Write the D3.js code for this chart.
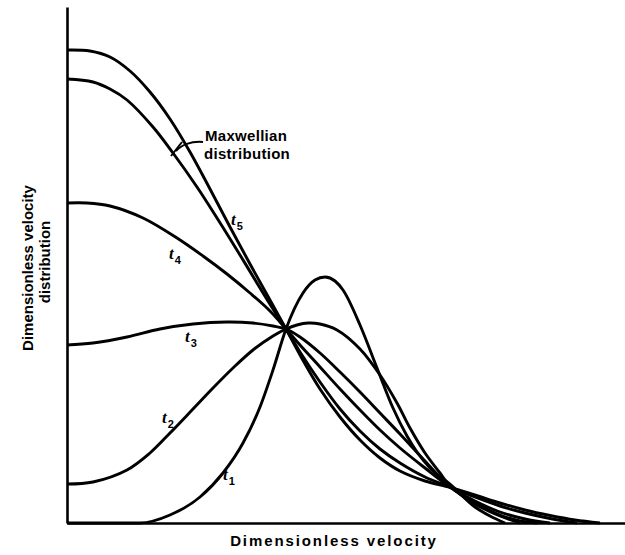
<!DOCTYPE html>
<html>
<head>
<meta charset="utf-8">
<script src="https://cdn.jsdelivr.net/npm/d3@7"></script>
<style>
  html, body { margin: 0; padding: 0; background: #fff; }
  svg { display: block; }
</style>
</head>
<body>
<svg id="chart" width="625" height="555"></svg>
<script>
// ---- Data: dimensionless velocity (v) vs dimensionless distribution f(v) ----
const maxwellian = [[0,4.73],[0.23,4.72],[0.43,4.66],[0.63,4.52],[0.83,4.31],[1.03,4.04],[1.23,3.71],[1.43,3.34],[1.63,2.96],[1.83,2.59],[2.03,2.23],[2.19,1.94],[2.33,1.68],[2.53,1.34],[2.73,1.06],[2.93,0.83],[3.13,0.65],[3.33,0.52],[3.58,0.42],[3.83,0.355],[4.08,0.28],[4.33,0.20],[4.58,0.13],[4.83,0.075],[5.08,0.03],[5.33,0.00]];
const t5 = [[0,4.44],[0.26,4.41],[0.43,4.34],[0.60,4.23],[0.86,3.96],[1.06,3.70],[1.30,3.36],[1.50,3.05],[1.73,2.68],[1.93,2.35],[2.06,2.14],[2.19,1.94],[2.33,1.71],[2.53,1.41],[2.73,1.14],[2.93,0.92],[3.13,0.74],[3.33,0.60],[3.58,0.46],[3.83,0.36],[4.08,0.26],[4.33,0.17],[4.58,0.10],[4.83,0.045],[5.10,0.00]];
const t4 = [[0,3.20],[0.2,3.20],[0.43,3.17],[0.76,3.05],[1.10,2.85],[1.36,2.67],[1.60,2.49],[1.83,2.30],[2.03,2.12],[2.19,1.94],[2.33,1.78],[2.53,1.56],[2.73,1.34],[2.93,1.13],[3.13,0.93],[3.33,0.75],[3.58,0.55],[3.83,0.36],[4.08,0.22],[4.33,0.11],[4.58,0.04],[4.83,0.00]];
const t3 = [[0,1.78],[0.26,1.80],[0.60,1.86],[0.93,1.94],[1.26,1.99],[1.60,2.01],[1.86,2.00],[2.06,1.97],[2.19,1.94],[2.33,1.86],[2.53,1.70],[2.73,1.51],[2.93,1.31],[3.13,1.10],[3.33,0.89],[3.58,0.62],[3.83,0.36],[4.08,0.20],[4.33,0.08],[4.53,0.02],[4.70,0.00]];
const t2 = [[0,0.39],[0.26,0.41],[0.60,0.53],[0.83,0.70],[1.03,0.90],[1.26,1.14],[1.46,1.35],[1.66,1.55],[1.86,1.73],[2.06,1.87],[2.19,1.94],[2.30,1.98],[2.41,2.00],[2.53,1.99],[2.70,1.93],[2.93,1.74],[3.13,1.48],[3.30,1.20],[3.43,0.95],[3.58,0.70],[3.73,0.50],[3.83,0.37],[4.08,0.19],[4.33,0.07],[4.53,0.00]];
const t1 = [[0,0],[0.73,0],[1.03,0.08],[1.33,0.26],[1.56,0.50],[1.76,0.80],[1.93,1.16],[2.06,1.53],[2.19,1.94],[2.36,2.30],[2.48,2.43],[2.58,2.46],[2.68,2.42],[2.76,2.33],[2.93,1.98],[3.10,1.55],[3.26,1.15],[3.40,0.87],[3.50,0.71],[3.63,0.55],[3.83,0.39],[4.08,0.16],[4.23,0.07],[4.38,0.00]];

const seriesNames = ["Maxwellian", "t5", "t4", "t3", "t2", "t1"];
const seriesData = [maxwellian, t5, t4, t3, t2, t1];

const xTitle = "Dimensionless velocity";
const yTitleLines = ["Dimensionless velocity", "distribution"];
const annotationLines = ["Maxwellian", "distribution"];
// curve labels: base letter + subscript, placed at (v, f)
const curveLabels = [
  { base: "t", sub: "5", v: 1.64, f: 2.98 },
  { base: "t", sub: "4", v: 1.02, f: 2.64 },
  { base: "t", sub: "3", v: 1.18, f: 1.81 },
  { base: "t", sub: "2", v: 0.95, f: 1.00 },
  { base: "t", sub: "1", v: 1.56, f: 0.43 }
];

// ---- Layout ----
const svg = d3.select("#chart");
const x = d3.scaleLinear().domain([0, 5.58]).range([67, 625]);
const y = d3.scaleLinear().domain([0, 5.16]).range([523, 7]);

const FONT = "'Liberation Sans', Arial, Helvetica, sans-serif";

// curves
const smoothLine = d3.line()
  .x(d => x(d[0]))
  .y(d => y(d[1]))
  .curve(d3.curveCatmullRom.alpha(0.5));
const monoLine = d3.line()
  .x(d => x(d[0]))
  .y(d => y(d[1]))
  .curve(d3.curveMonotoneX);

svg.append("g")
  .selectAll("path")
  .data(seriesData)
  .join("path")
  .attr("d", (d, i) => seriesNames[i] === "t1" ? monoLine(d) : smoothLine(d))
  .attr("fill", "none")
  .attr("stroke", "#000")
  .attr("stroke-width", 2.9)
  .attr("stroke-linejoin", "round");

// axes (no ticks)
const xAxis = svg.append("g")
  .attr("transform", `translate(0,${y(0)})`)
  .call(d3.axisBottom(x).ticks(0).tickSizeOuter(0));
const yAxis = svg.append("g")
  .attr("transform", `translate(${x(0)},0)`)
  .call(d3.axisLeft(y).ticks(0).tickSizeOuter(0));
[xAxis, yAxis].forEach(g => g.select(".domain").attr("stroke", "#000").attr("stroke-width", 2.6));

// axis titles
svg.append("text")
  .attr("x", 334).attr("y", 546)
  .attr("text-anchor", "middle")
  .attr("font-family", FONT).attr("font-weight", "bold")
  .attr("font-size", 15).attr("letter-spacing", 1.9)
  .text(xTitle);

const yt = svg.append("text")
  .attr("transform", "translate(33,268) rotate(-90)")
  .attr("text-anchor", "middle")
  .attr("font-family", FONT).attr("font-weight", "bold")
  .attr("font-size", 15);
yt.append("tspan").attr("x", 0).attr("y", 0).text(yTitleLines[0]);
yt.append("tspan").attr("x", 6).attr("y", 17).text(yTitleLines[1]);

// Maxwellian annotation
const ann = svg.append("text")
  .attr("font-family", FONT).attr("font-weight", "bold")
  .attr("font-size", 15).attr("letter-spacing", 0.3);
ann.append("tspan").attr("x", x(1.38)).attr("y", y(3.82)).text(annotationLines[0]);
ann.append("tspan").attr("x", x(1.37)).attr("y", y(3.64)).text(annotationLines[1]);

const leader = d3.path();
leader.moveTo(x(1.36), y(3.81));
leader.bezierCurveTo(x(1.24), y(3.82), x(1.14), y(3.78), x(1.09), y(3.72));
svg.append("path").attr("d", leader.toString())
  .attr("fill", "none").attr("stroke", "#000").attr("stroke-width", 2);
svg.append("line")
  .attr("x1", x(1.15)).attr("y1", y(3.81))
  .attr("x2", x(1.04)).attr("y2", y(3.67))
  .attr("stroke", "#000").attr("stroke-width", 2);

// curve labels
const lab = svg.append("g").selectAll("text")
  .data(curveLabels)
  .join("text")
  .attr("x", d => x(d.v))
  .attr("y", d => y(d.f));
lab.append("tspan")
  .attr("font-family", "'Liberation Serif', 'Times New Roman', serif")
  .attr("font-style", "italic").attr("font-weight", "bold")
  .attr("font-size", 17)
  .text(d => d.base);
lab.append("tspan")
  .attr("font-family", FONT).attr("font-weight", "bold")
  .attr("font-size", 11).attr("dx", 1).attr("dy", 5)
  .text(d => d.sub);
</script>
</body>
</html>
